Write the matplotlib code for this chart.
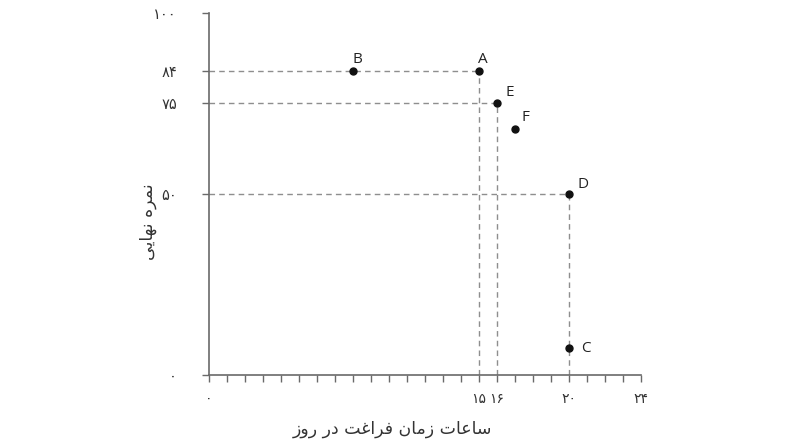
import matplotlib
matplotlib.use("Agg")
import matplotlib.pyplot as plt

# --- データ ---
point_names = ['A', 'B', 'C', 'D', 'E', 'F']
hours = [15, 8, 20, 20, 16, 17]
scores = [84, 84, 7.5, 50, 75, 68]
# 破線で軸に結ぶ点
guide_points = ['A', 'E', 'D']

x_tick_labels = {0: '۰', 15: '۱۵', 16: '۱۶', 20: '۲۰', 24: '۲۴'}
y_ticks = [0, 50, 75, 84, 100]
y_tick_labels = ['۰', '۵۰', '۷۵', '۸۴', '۱۰۰']

x_label = 'ساعات زمان فراغت در روز'
y_label = 'نمره نهایی'

# --- 簡易アラビア文字整形（表示形 + 逆順） ---
FORMS = {
    'ا': ('\uFE8D', '\uFE8E', None, None),
    'د': ('\uFEA9', '\uFEAA', None, None),
    'ر': ('\uFEAD', '\uFEAE', None, None),
    'ز': ('\uFEAF', '\uFEB0', None, None),
    'و': ('\uFEED', '\uFEEE', None, None),
    'س': ('\uFEB1', '\uFEB2', '\uFEB3', '\uFEB4'),
    'ع': ('\uFEC9', '\uFECA', '\uFECB', '\uFECC'),
    'غ': ('\uFECD', '\uFECE', '\uFECF', '\uFED0'),
    'ت': ('\uFE95', '\uFE96', '\uFE97', '\uFE98'),
    'م': ('\uFEE1', '\uFEE2', '\uFEE3', '\uFEE4'),
    'ن': ('\uFEE5', '\uFEE6', '\uFEE7', '\uFEE8'),
    'ف': ('\uFED1', '\uFED2', '\uFED3', '\uFED4'),
    'ه': ('\uFEE9', '\uFEEA', '\uFEEB', '\uFEEC'),
    'ی': ('\uFEEF', '\uFEF0', '\uFEF3', '\uFEF4'),
}


def shape(text):
    out = []
    for i, ch in enumerate(text):
        f = FORMS.get(ch)
        if f is None:
            out.append(ch)
            continue
        prev = text[i - 1] if i > 0 else ''
        nxt = text[i + 1] if i + 1 < len(text) else ''
        join_prev = prev in FORMS and FORMS[prev][2] is not None
        join_next = nxt in FORMS and f[2] is not None
        if join_prev and join_next:
            out.append(f[3])
        elif join_prev:
            out.append(f[1])
        elif join_next:
            out.append(f[2])
        else:
            out.append(f[0])
    return ''.join(reversed(out))


AXIS_COLOR = '#6a6a6a'
DASH_COLOR = '#8e8e8e'
FA_FONT = ['DejaVu Sans']

fig = plt.figure(figsize=(8.1, 4.44), dpi=100)
ax = fig.add_axes([0.258, 0.155, 0.533, 0.816])

pts = dict(zip(point_names, zip(hours, scores)))

# 破線
for name in guide_points:
    x, y = pts[name]
    ax.plot([0, x], [y, y], color=DASH_COLOR, lw=1, dashes=(4, 3), zorder=1)
    ax.plot([x, x], [0, y], color=DASH_COLOR, lw=1, dashes=(4, 3), zorder=1)

# 点とラベル
offsets = {'A': (3, 8), 'B': (3, 8), 'C': (9, 0), 'D': (6, 7),
           'E': (6, 8), 'F': (5, 8)}
for name, x, y in zip(point_names, hours, scores):
    ax.plot(x, y, 'o', color='#111111', ms=5, zorder=3, clip_on=False)
    dx, dy = offsets[name]
    ax.annotate(name, (x, y), xytext=(dx, dy), textcoords='offset points',
                ha='center' if name in ('A', 'B') else 'left',
                va='center', fontsize=11, family='Open Sans', color='#222222')

ax.set_xlim(0, 24)
ax.set_ylim(0, 100)

for side in ['top', 'right']:
    ax.spines[side].set_visible(False)
for side in ['left', 'bottom']:
    ax.spines[side].set_color(AXIS_COLOR)
    ax.spines[side].set_linewidth(1.2)

ax.set_xticks(range(25))
ax.set_xticklabels([x_tick_labels.get(i, '') for i in range(25)],
                   family=FA_FONT, fontsize=10)
ax.set_yticks(y_ticks)
ax.set_yticklabels(y_tick_labels, family=FA_FONT, fontsize=10.5)
ax.tick_params(axis='x', direction='out', length=5, width=1, color=AXIS_COLOR,
               pad=7, labelcolor='#333333')
ax.tick_params(axis='y', direction='out', length=5, width=1, color=AXIS_COLOR,
               pad=18, labelcolor='#333333')

ax.set_xlabel(shape(x_label), family=FA_FONT, fontsize=12.5, color='#333333')
ax.set_ylabel(shape(y_label), family=FA_FONT, fontsize=12.5, color='#333333')
ax.xaxis.set_label_coords(0.424, -0.148)
ax.yaxis.set_label_coords(-0.141, 0.424)
ax.xaxis.label.set_va('center')
ax.yaxis.label.set_va('center')

fig.savefig('out.png', dpi=100)
